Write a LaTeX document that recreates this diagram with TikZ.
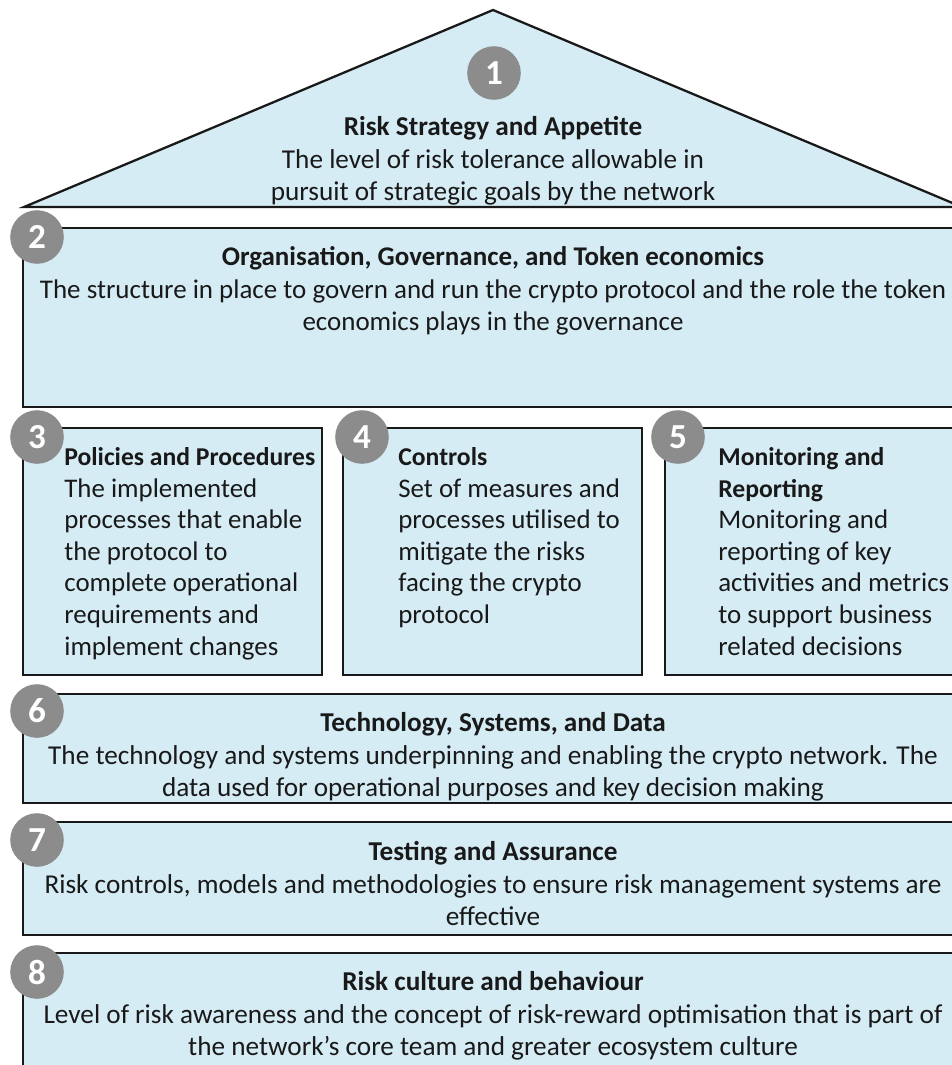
\documentclass[tikz,border=0pt]{standalone}
\usepackage{fontspec}
\setmainfont{Carlito}
\usetikzlibrary{positioning}

\definecolor{panelblue}{HTML}{D5ECF5}
\definecolor{badgegray}{HTML}{8C8C8C}

% bold heading of the three pillars
\newcommand{\colhead}[1]{{\fontsize{14.6}{18.0}\selectfont\bfseries #1}}

\tikzset{
  panel/.style={draw=black!90, fill=panelblue, line width=1.3pt, line join=miter},
  badge/.style={circle, fill=badgegray, minimum size=30.5pt, inner sep=0pt,
                text=white, font=\fontsize{20}{20}\selectfont\bfseries},
  midtext/.style={anchor=north, align=center, inner sep=0pt, text=black!90,
                  font=\fontsize{15.5}{18.3}\selectfont},
  coltext/.style={anchor=north west, align=left, inner sep=0pt, text=black!90,
                  font=\fontsize{15.3}{18.0}\selectfont}
}

\begin{document}
\begin{tikzpicture}[x=0.02cm, y=-0.02cm]
  \clip (0,0) rectangle (952,1065);
  \fill[white] (0,0) rectangle (952,1065);

  % roof
  \draw[panel] (24,207) -- (493,10) -- (962,207) -- cycle;
  % floors
  \draw[panel] (23,228) rectangle (963,407);
  \draw[panel] (23,428) rectangle (322,675)
               (343,428) rectangle (642,675)
               (665,428) rectangle (963,675);
  \draw[panel] (23,694) rectangle (963,803);
  \draw[panel] (23,822) rectangle (963,935);
  \draw[panel] (23,953) rectangle (963,1090);

  % texts
  \node[midtext] (roof) at (493,113) {\strut\textbf{Risk Strategy and Appetite}\\
    The level of risk tolerance allowable in\\
    pursuit of strategic goals by the network};
  \node[midtext, font=\fontsize{15.35}{18.3}\selectfont] (org) at (493,243)
    {\strut\textbf{Organisation, Governance, and Token economics}\\
    The structure in place to govern and run the crypto protocol and the role the token\\
    economics plays in the governance};
  \node[coltext] (pol) at (64,443) {\strut\colhead{Policies and Procedures}\\
    The implemented\\ processes that enable\\ the protocol to\\
    complete operational\\ requirements and\\ implement changes};
  \node[coltext] (ctl) at (398,443) {\strut\colhead{Controls}\\
    Set of measures and\\ processes utilised to\\ mitigate the risks\\
    facing the crypto\\ protocol};
  \node[coltext] (mon) at (718,443) {\strut\colhead{Monitoring and}\\ \colhead{Reporting}\\
    Monitoring and\\ reporting of key\\ activities and metrics\\
    to support business\\ related decisions};
  \node[midtext] (tech) at (493,709) {\strut\textbf{Technology, Systems, and Data}\\
    The technology and systems underpinning and enabling the crypto network. The\\
    data used for operational purposes and key decision making};
  \node[midtext] (test) at (493,838) {\strut\textbf{Testing and Assurance}\\
    Risk controls, models and methodologies to ensure risk management systems are\\
    effective};
  \node[midtext] (cult) at (493,968) {\strut\textbf{Risk culture and behaviour}\\
    Level of risk awareness and the concept of risk-reward optimisation that is part of\\
    the network’s core team and greater ecosystem culture};

  % numbered badges
  \node[badge] (b1) at (494,73) {1};
  \node[badge] (b2) at (37,237) {2};
  \node[badge] (b3) at (37,437) {3};
  \node[badge] (b4) at (362,437) {4};
  \node[badge] (b5) at (678,437) {5};
  \node[badge] (b6) at (37,711) {6};
  \node[badge] (b7) at (37,840) {7};
  \node[badge] (b8) at (37,972) {8};
\end{tikzpicture}
\end{document}
